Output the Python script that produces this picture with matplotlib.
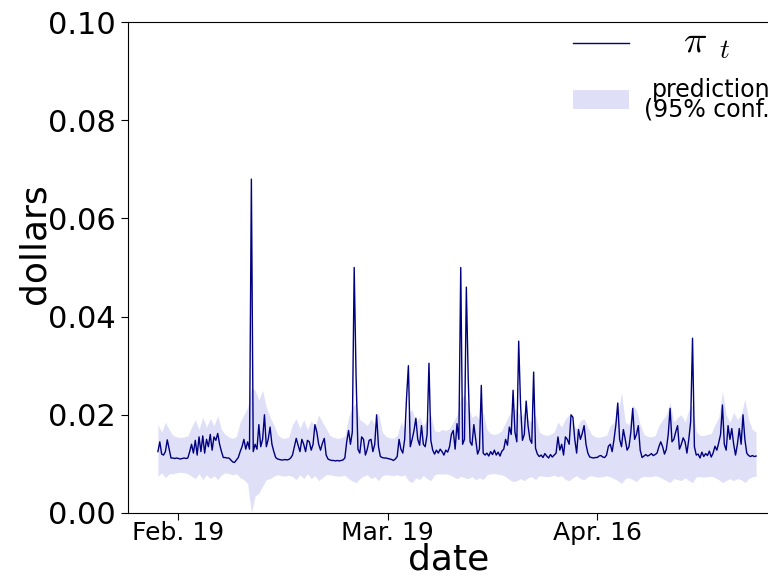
import matplotlib.pyplot as plt
import pandas as pd

plt.rcParams['mathtext.fontset'] = 'cm'

# observed price, one value every 6 hours from Feb. 16 06:00
pi_t = [
    0.0125, 0.0145, 0.0120, 0.0118, 0.0125, 0.0149, 0.0130,
    0.0112, 0.0112, 0.0111, 0.0112, 0.0111, 0.0110, 0.0111, 0.0112, 0.0111, 0.0112,
    0.0125, 0.0140, 0.0122, 0.0148, 0.0118, 0.0155, 0.0125, 0.0157, 0.0122, 0.0150,
    0.0135, 0.0160, 0.0128, 0.0155, 0.0148, 0.0162, 0.0140, 0.0125, 0.0113,
    0.0113, 0.0112, 0.0112, 0.0108, 0.0104, 0.0103, 0.0108, 0.0113,
    0.0125, 0.0135, 0.0150, 0.0130, 0.0145, 0.0130, 0.0680, 0.0125, 0.0140, 0.0130,
    0.0180, 0.0135, 0.0150, 0.0200, 0.0135, 0.0150, 0.0175, 0.0140, 0.0125,
    0.0113, 0.0110, 0.0109, 0.0108, 0.0108, 0.0109, 0.0108, 0.0109, 0.0112,
    0.0118, 0.0135, 0.0152, 0.0138, 0.0125, 0.0150, 0.0140, 0.0125, 0.0148, 0.0145,
    0.0128, 0.0140, 0.0180, 0.0165, 0.0140, 0.0128, 0.0142, 0.0152, 0.0118,
    0.0110, 0.0108, 0.0107, 0.0107, 0.0106, 0.0107, 0.0106, 0.0107, 0.0108, 0.0112,
    0.0145, 0.0168, 0.0140, 0.0165, 0.0500, 0.0280, 0.0130, 0.0122, 0.0155, 0.0150,
    0.0118, 0.0130, 0.0148, 0.0150, 0.0125, 0.0140, 0.0200, 0.0135,
    0.0115, 0.0113, 0.0112, 0.0112, 0.0111, 0.0110, 0.0109, 0.0107, 0.0110, 0.0115,
    0.0150, 0.0130, 0.0122, 0.0150, 0.0234, 0.0300, 0.0135, 0.0150, 0.0168, 0.0193,
    0.0150, 0.0138, 0.0178, 0.0140, 0.0135, 0.0160, 0.0305, 0.0148,
    0.0128, 0.0120, 0.0128, 0.0122, 0.0130, 0.0125, 0.0118, 0.0128, 0.0124, 0.0135,
    0.0160, 0.0168, 0.0130, 0.0182, 0.0150,
    0.0500, 0.0140, 0.0150, 0.0460, 0.0275, 0.0145, 0.0138, 0.0180, 0.0150, 0.0120,
    0.0130, 0.0260, 0.0122,
    0.0118, 0.0122, 0.0116, 0.0125, 0.0119, 0.0128, 0.0118, 0.0124, 0.0116, 0.0126, 0.0130,
    0.0150, 0.0138, 0.0175, 0.0160, 0.0250, 0.0165, 0.0145, 0.0350, 0.0220, 0.0148,
    0.0160, 0.0228, 0.0178, 0.0150, 0.0142, 0.0287, 0.0132,
    0.0120, 0.0115, 0.0118, 0.0113, 0.0121, 0.0116, 0.0112, 0.0119, 0.0114, 0.0118, 0.0122,
    0.0155, 0.0128, 0.0140, 0.0118, 0.0155, 0.0150, 0.0140, 0.0200, 0.0195, 0.0150,
    0.0122, 0.0170, 0.0150, 0.0162, 0.0178, 0.0140, 0.0122,
    0.0114, 0.0113, 0.0112, 0.0113, 0.0113, 0.0116, 0.0117, 0.0114, 0.0113, 0.0118,
    0.0136, 0.0140, 0.0125, 0.0150, 0.0180, 0.0224, 0.0150, 0.0135, 0.0170, 0.0150,
    0.0128, 0.0135, 0.0165, 0.0213, 0.0150, 0.0160, 0.0178, 0.0128,
    0.0113, 0.0116, 0.0119, 0.0116, 0.0118, 0.0121, 0.0117, 0.0119, 0.0122,
    0.0135, 0.0145, 0.0135, 0.0120, 0.0130, 0.0160, 0.0213, 0.0145, 0.0150, 0.0165,
    0.0178, 0.0130, 0.0140, 0.0153, 0.0145, 0.0122, 0.0150, 0.0186, 0.0356, 0.0135,
    0.0118, 0.0120, 0.0112, 0.0124, 0.0115, 0.0121, 0.0117, 0.0126, 0.0114, 0.0122,
    0.0136, 0.0128, 0.0143, 0.0160, 0.0220, 0.0140, 0.0128, 0.0178, 0.0150, 0.0172,
    0.0140, 0.0118, 0.0140, 0.0172, 0.0140, 0.0200, 0.0150, 0.0122, 0.0117, 0.0115,
    0.0117, 0.0115, 0.0116,
]

# 95% prediction interval, one value every 12 hours
band_lo = [
    0.0075, 0.0082, 0.0072, 0.0080,
    0.0080, 0.0082, 0.0083, 0.0082, 0.0080,
    0.0075, 0.0070, 0.0080, 0.0068, 0.0078, 0.0070, 0.0076, 0.0068, 0.0078,
    0.0082, 0.0080, 0.0078, 0.0080,
    0.0072, 0.0068, 0.0060, 0.0000, 0.0035, 0.0040, 0.0055, 0.0068, 0.0070, 0.0075,
    0.0078, 0.0076, 0.0075, 0.0077,
    0.0074, 0.0068, 0.0078, 0.0070, 0.0080, 0.0070, 0.0076, 0.0066, 0.0072, 0.0078,
    0.0078, 0.0076, 0.0075, 0.0075, 0.0077,
    0.0070, 0.0065, 0.0062, 0.0070, 0.0075, 0.0078, 0.0070, 0.0074, 0.0066,
    0.0076, 0.0078, 0.0077, 0.0076, 0.0078,
    0.0075, 0.0078, 0.0066, 0.0062, 0.0072, 0.0068, 0.0076, 0.0070, 0.0066,
    0.0078, 0.0080, 0.0079, 0.0080, 0.0078, 0.0074, 0.0070,
    0.0075, 0.0072, 0.0070, 0.0074, 0.0068, 0.0072, 0.0068,
    0.0078, 0.0080, 0.0080, 0.0079, 0.0078,
    0.0074, 0.0068, 0.0064, 0.0066, 0.0070, 0.0066, 0.0072, 0.0074, 0.0068,
    0.0076, 0.0075, 0.0074, 0.0075, 0.0077,
    0.0074, 0.0076, 0.0068, 0.0066, 0.0072, 0.0076, 0.0070, 0.0068, 0.0074,
    0.0076, 0.0074, 0.0073, 0.0074, 0.0076,
    0.0074, 0.0070, 0.0066, 0.0060, 0.0070, 0.0072, 0.0068, 0.0064, 0.0072,
    0.0075, 0.0074, 0.0074, 0.0076,
    0.0074, 0.0070, 0.0066, 0.0062, 0.0070, 0.0068, 0.0066, 0.0072, 0.0066, 0.0062,
    0.0074, 0.0074, 0.0073, 0.0074, 0.0075,
    0.0072, 0.0068, 0.0062, 0.0066, 0.0070, 0.0066, 0.0070, 0.0068, 0.0062, 0.0070,
    0.0074, 0.0075,
]
band_hi = [
    0.0180, 0.0165, 0.0185, 0.0170,
    0.0158, 0.0155, 0.0154, 0.0155, 0.0157,
    0.0175, 0.0190, 0.0170, 0.0195, 0.0175, 0.0192, 0.0178, 0.0198, 0.0170,
    0.0160, 0.0155, 0.0152, 0.0156,
    0.0185, 0.0200, 0.0215, 0.0255, 0.0250, 0.0230, 0.0250, 0.0215, 0.0195, 0.0180,
    0.0160, 0.0153, 0.0152, 0.0155,
    0.0180, 0.0192, 0.0172, 0.0190, 0.0170, 0.0188, 0.0175, 0.0200, 0.0185, 0.0172,
    0.0158, 0.0154, 0.0152, 0.0153, 0.0157,
    0.0195, 0.0215, 0.0225, 0.0190, 0.0185, 0.0178, 0.0192, 0.0180, 0.0205,
    0.0165, 0.0156, 0.0153, 0.0152, 0.0158,
    0.0185, 0.0172, 0.0205, 0.0210, 0.0185, 0.0195, 0.0178, 0.0190, 0.0200,
    0.0168, 0.0165, 0.0170, 0.0168, 0.0172, 0.0185, 0.0200,
    0.0235, 0.0240, 0.0220, 0.0195, 0.0200, 0.0190, 0.0205,
    0.0170, 0.0162, 0.0160, 0.0162, 0.0168,
    0.0185, 0.0200, 0.0215, 0.0210, 0.0195, 0.0205, 0.0190, 0.0185, 0.0200,
    0.0165, 0.0160, 0.0158, 0.0160, 0.0165,
    0.0185, 0.0175, 0.0192, 0.0200, 0.0180, 0.0172, 0.0188, 0.0192, 0.0175,
    0.0160, 0.0155, 0.0154, 0.0156, 0.0158,
    0.0178, 0.0185, 0.0200, 0.0245, 0.0185, 0.0180, 0.0220, 0.0210, 0.0180,
    0.0160, 0.0156, 0.0155, 0.0158,
    0.0178, 0.0190, 0.0200, 0.0225, 0.0185, 0.0195, 0.0200, 0.0185, 0.0210, 0.0220,
    0.0165, 0.0158, 0.0158, 0.0160, 0.0162,
    0.0180, 0.0195, 0.0248, 0.0200, 0.0185, 0.0205, 0.0190, 0.0200, 0.0232, 0.0190,
    0.0170, 0.0165,
]

tick_days = ['2018-02-19', '2018-03-19', '2018-04-16']
tick_labels = ['Feb. 19', 'Mar. 19', 'Apr. 16']

t = pd.date_range('2018-02-16 06:00', periods=len(pi_t), freq='6h')
t_band = pd.date_range('2018-02-16 06:00', periods=len(band_lo), freq='12h')

fig = plt.figure(figsize=(7.68, 5.76), dpi=100)
ax = fig.add_axes([128/768, 63/576, 658/768, 491/576])
ax.spines['right'].set_visible(False)

band = ax.fill_between(t_band, band_lo, band_hi, color='#dfdff7', lw=0,
                       label='prediction\n(95% conf.)')
line, = ax.plot(t, pi_t, color='navy', lw=1.0, label=r'$\quad\,\pi\ _t$')

ax.set_ylim(0, 0.10)
ax.set_yticks([0.0, 0.02, 0.04, 0.06, 0.08, 0.10])
ax.set_yticklabels(['0.00', '0.02', '0.04', '0.06', '0.08', '0.10'])
ax.set_xticks(pd.to_datetime(tick_days))
ax.set_xticklabels(tick_labels)
ax.tick_params(axis='y', labelsize=22, length=5)
ax.tick_params(axis='x', labelsize=18, length=5, pad=1)

ax.set_ylabel('dollars', fontsize=26)
ax.yaxis.set_label_coords(-0.117, 0.548)
ax.set_xlabel('date', fontsize=26)
ax.xaxis.set_label_coords(0.488, -0.06)

leg = ax.legend(handles=[line, band], loc='upper right', frameon=False, fontsize=20,
                labelspacing=0.6, handletextpad=0.55, bbox_to_anchor=(1.027, 1.05))
leg.get_texts()[0].set_fontsize(28)
leg.get_texts()[1].set_fontsize(17)
leg.get_texts()[1].set_linespacing(0.8)
leg.get_texts()[1].set_multialignment('center')

fig.savefig('out.png')
